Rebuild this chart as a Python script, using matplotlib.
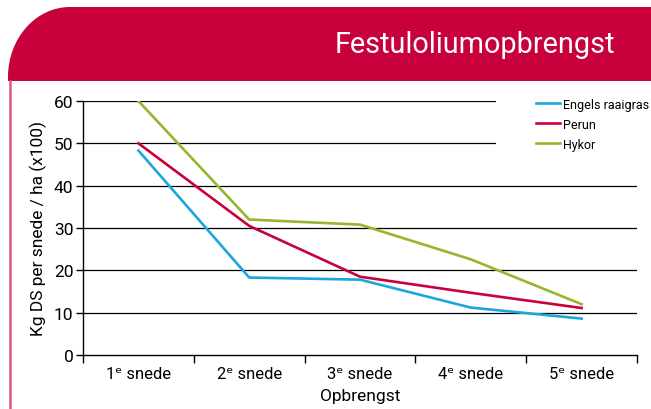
import matplotlib.pyplot as plt
import matplotlib.patches as mpatches
from matplotlib.path import Path
import numpy as np

plt.rcParams['font.family'] = ['Roboto', 'DejaVu Sans']

# data (kg DS per snede / ha, x100)
cuts = ['1ᵉ snede', '2ᵉ snede', '3ᵉ snede', '4ᵉ snede', '5ᵉ snede']
engels = [48.3, 18.3, 17.8, 11.2, 8.6]
perun = [50.0, 30.5, 18.5, 14.7, 11.1]
hykor = [60.0, 32.0, 30.8, 22.6, 12.0]

c_blue = '#1aa7de'
c_red = '#c8003c'
c_green = '#95b62f'

fig = plt.figure(figsize=(6.51, 4.10), dpi=100)

# background layer in pixel coords for the header band and side border
bg = fig.add_axes([0, 0, 1, 1])
bg.set_xlim(0, 651)
bg.set_ylim(410, 0)
bg.axis('off')
k = 0.5523
rx, ry = 62, 70
x0, y0, x1, y1 = 8, 8, 651, 82
verts = [(x1, y1), (x0, y1), (x0, y0 + ry),
         (x0, y0 + ry - k * ry), (x0 + rx - k * rx, y0), (x0 + rx, y0),
         (x1, y0), (x1, y1)]
codes = [Path.MOVETO, Path.LINETO, Path.LINETO,
         Path.CURVE4, Path.CURVE4, Path.CURVE4,
         Path.LINETO, Path.CLOSEPOLY]
bg.add_patch(mpatches.PathPatch(Path(verts, codes), facecolor=c_red, edgecolor='none'))
bg.plot([10, 10], [82, 410], color='#e0557f', lw=1.8)
bg.text(615, 53, 'Festuloliumopbrengst', color='white', fontsize=20.8,
        ha='right', va='baseline')

ax = fig.add_axes([83 / 651, 1 - 356 / 410, (637 - 83) / 651, (356 - 102) / 410])
x = np.arange(len(cuts))
ax.plot(x, engels, color=c_blue, lw=1.9, label='Engels raaigras', zorder=3)
ax.plot(x, perun, color=c_red, lw=1.9, label='Perun', zorder=3)
ax.plot(x, hykor, color=c_green, lw=1.9, label='Hykor', zorder=3)

for v in range(10, 61, 10):
    ax.axhline(v, color='black', lw=0.9, zorder=1)

# white area behind the legend that cuts the top grid lines
ax.add_patch(mpatches.Rectangle((0.745, 0.78), 0.3, 0.25, transform=ax.transAxes,
                                facecolor='white', edgecolor='none',
                                zorder=2, clip_on=False))

ax.set_xlim(-0.5, len(cuts) - 0.5)
ax.set_ylim(0, 60)
ax.set_yticks(range(0, 61, 10))
ax.set_xticks(x)
ax.set_xticklabels(cuts, fontsize=12)
ax.set_xticks(np.arange(-0.5, len(cuts), 1), minor=True)
ax.tick_params(axis='x', which='major', length=0, pad=8)
ax.tick_params(axis='x', which='minor', length=6, width=1, direction='out')
ax.tick_params(axis='y', labelsize=12.5, length=5, width=1, pad=2)
for s in ['top', 'right']:
    ax.spines[s].set_visible(False)
ax.spines['left'].set_linewidth(1)
ax.spines['bottom'].set_linewidth(1)
ax.set_ylabel('Kg DS per snede / ha (x100)', fontsize=12.5, labelpad=5)
ax.set_xlabel('Opbrengst', fontsize=12.5, labelpad=5)

leg = ax.legend(loc='upper left', bbox_to_anchor=(0.818, 1.013), frameon=False,
                fontsize=9, handlelength=1.9, handletextpad=0.25,
                labelspacing=0.56, borderpad=0, borderaxespad=0)
leg.set_zorder(5)

fig.savefig('out.png', dpi=100)
